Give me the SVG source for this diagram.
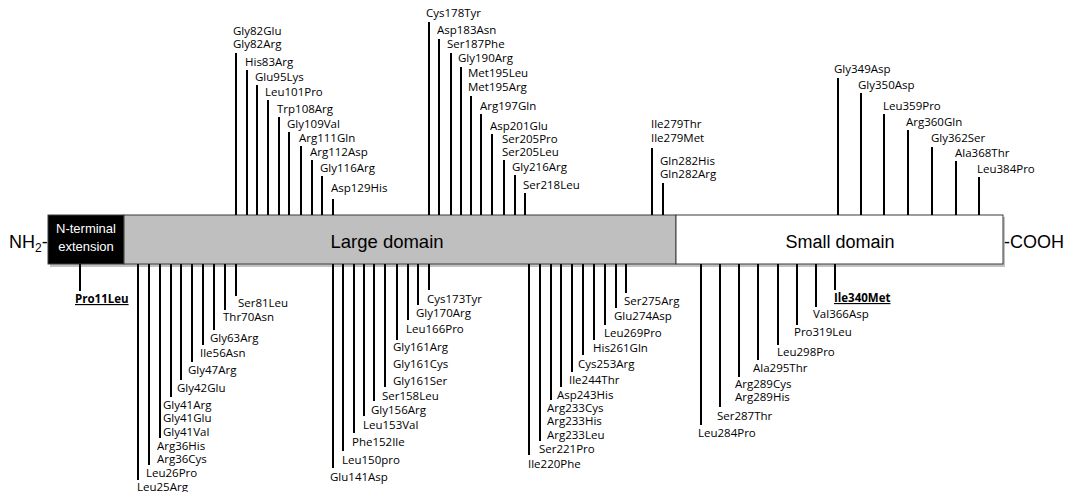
<svg xmlns="http://www.w3.org/2000/svg" width="1068" height="492" viewBox="0 0 1068 492">
<style>
.lb{font-family:"Open Sans","Noto Sans",sans-serif;font-size:11.5px;fill:#000}
.bd{font-weight:bold;text-decoration:underline}
.ar{font-family:"Liberation Sans",Arial,sans-serif;fill:#000}
.wt{fill:#fff}
.cn line{stroke:#000;stroke-width:2}
.dom{stroke:#3a3a3a;stroke-width:1}
.sh{fill:#9a9a9a;opacity:0.6}
</style>
<rect width="1068" height="492" fill="#fff"/>
<g id="shadows">
<rect class="sh" x="50" y="217" width="955" height="50"/>
</g>
<g id="nterm">
<rect class="dom" x="48" y="215" width="76" height="49" fill="#000"/>
<text class="ar wt" x="86" y="233" font-size="13" text-anchor="middle">N-terminal</text>
<text class="ar wt" x="86" y="251" font-size="13" text-anchor="middle">extension</text>
</g>
<g id="large">
<rect class="dom" x="124" y="215" width="552" height="49" fill="#bfbfbf"/>
<text class="ar" x="387" y="248" font-size="18.5" text-anchor="middle">Large domain</text>
</g>
<g id="small">
<rect class="dom" x="676" y="215" width="327" height="49" fill="#fff"/>
<text class="ar" x="840" y="248" font-size="18" text-anchor="middle">Small domain</text>
</g>
<g id="nh2"><text class="ar" x="9" y="248" font-size="18">NH<tspan font-size="12" dy="4">2</tspan><tspan dy="-4">-</tspan></text></g>
<g id="cooh"><text class="ar" x="1004" y="248" font-size="18">-COOH</text></g>

<g id="connectors" class="cn">
<line x1="80" y1="264" x2="80" y2="291"/>
<line x1="236" y1="53" x2="236" y2="215"/>
<line x1="247" y1="70" x2="247" y2="215"/>
<line x1="257" y1="85" x2="257" y2="215"/>
<line x1="268" y1="100" x2="268" y2="215"/>
<line x1="279" y1="117" x2="279" y2="215"/>
<line x1="289" y1="132" x2="289" y2="215"/>
<line x1="301" y1="146" x2="301" y2="215"/>
<line x1="312" y1="160" x2="312" y2="215"/>
<line x1="322" y1="176" x2="322" y2="215"/>
<line x1="333" y1="199" x2="333" y2="215"/>
<line x1="429" y1="22" x2="429" y2="215"/>
<line x1="439" y1="39" x2="439" y2="215"/>
<line x1="451" y1="53" x2="451" y2="215"/>
<line x1="461" y1="67" x2="461" y2="215"/>
<line x1="471" y1="96" x2="471" y2="215"/>
<line x1="481" y1="114" x2="481" y2="215"/>
<line x1="492" y1="134" x2="492" y2="215"/>
<line x1="504" y1="160" x2="504" y2="215"/>
<line x1="515" y1="175" x2="515" y2="215"/>
<line x1="525" y1="193" x2="525" y2="215"/>
<line x1="652" y1="148" x2="652" y2="215"/>
<line x1="663" y1="183" x2="663" y2="215"/>
<line x1="838" y1="78" x2="838" y2="215"/>
<line x1="861" y1="93" x2="861" y2="215"/>
<line x1="884" y1="114" x2="884" y2="215"/>
<line x1="908" y1="130" x2="908" y2="215"/>
<line x1="932" y1="147" x2="932" y2="215"/>
<line x1="956" y1="161" x2="956" y2="215"/>
<line x1="979" y1="177" x2="979" y2="215"/>
<line x1="138" y1="264" x2="138" y2="480"/>
<line x1="149" y1="264" x2="149" y2="465"/>
<line x1="160" y1="264" x2="160" y2="438"/>
<line x1="171" y1="264" x2="171" y2="397"/>
<line x1="181" y1="264" x2="181" y2="380"/>
<line x1="192" y1="264" x2="192" y2="362"/>
<line x1="203" y1="264" x2="203" y2="345"/>
<line x1="214" y1="264" x2="214" y2="330"/>
<line x1="225" y1="264" x2="225" y2="310"/>
<line x1="236" y1="264" x2="236" y2="296"/>
<line x1="333" y1="264" x2="333" y2="468"/>
<line x1="343" y1="264" x2="343" y2="451"/>
<line x1="354" y1="264" x2="354" y2="433"/>
<line x1="364" y1="264" x2="364" y2="416"/>
<line x1="374" y1="264" x2="374" y2="401"/>
<line x1="385" y1="264" x2="385" y2="387"/>
<line x1="397" y1="264" x2="397" y2="340"/>
<line x1="408" y1="264" x2="408" y2="320"/>
<line x1="418" y1="264" x2="418" y2="305"/>
<line x1="429" y1="264" x2="429" y2="290"/>
<line x1="529" y1="264" x2="529" y2="455"/>
<line x1="540" y1="264" x2="540" y2="441"/>
<line x1="551" y1="264" x2="551" y2="400"/>
<line x1="561" y1="264" x2="561" y2="387"/>
<line x1="572" y1="264" x2="572" y2="372"/>
<line x1="583" y1="264" x2="583" y2="355"/>
<line x1="594" y1="264" x2="594" y2="340"/>
<line x1="605" y1="264" x2="605" y2="325"/>
<line x1="616" y1="264" x2="616" y2="308"/>
<line x1="626" y1="264" x2="626" y2="293"/>
<line x1="701" y1="264" x2="701" y2="425"/>
<line x1="720" y1="264" x2="720" y2="407"/>
<line x1="739" y1="264" x2="739" y2="377"/>
<line x1="758" y1="264" x2="758" y2="360"/>
<line x1="778" y1="264" x2="778" y2="345"/>
<line x1="797" y1="264" x2="797" y2="325"/>
<line x1="816" y1="264" x2="816" y2="307"/>
<line x1="835" y1="264" x2="835" y2="290"/>
</g>

<g id="m-pro11"><text class="lb bd" x="75" y="303">Pro11Leu</text></g>
<g id="m-gly82"><text class="lb" x="233" y="35">Gly82Glu</text><text class="lb" x="233" y="48">Gly82Arg</text></g>
<g id="m-his83"><text class="lb" x="245" y="66">His83Arg</text></g>
<g id="m-glu95"><text class="lb" x="255" y="81">Glu95Lys</text></g>
<g id="m-leu101"><text class="lb" x="265" y="96">Leu101Pro</text></g>
<g id="m-trp108"><text class="lb" x="277" y="113">Trp108Arg</text></g>
<g id="m-gly109"><text class="lb" x="287" y="128">Gly109Val</text></g>
<g id="m-arg111"><text class="lb" x="299" y="142">Arg111Gln</text></g>
<g id="m-arg112"><text class="lb" x="310" y="156">Arg112Asp</text></g>
<g id="m-gly116"><text class="lb" x="320" y="172">Gly116Arg</text></g>
<g id="m-asp129"><text class="lb" x="331" y="192">Asp129His</text></g>
<g id="m-cys178"><text class="lb" x="426" y="17">Cys178Tyr</text></g>
<g id="m-asp183"><text class="lb" x="437" y="34">Asp183Asn</text></g>
<g id="m-ser187"><text class="lb" x="447" y="48">Ser187Phe</text></g>
<g id="m-gly190"><text class="lb" x="458" y="62">Gly190Arg</text></g>
<g id="m-met195"><text class="lb" x="468" y="77">Met195Leu</text><text class="lb" x="468" y="91">Met195Arg</text></g>
<g id="m-arg197"><text class="lb" x="480" y="110">Arg197Gln</text></g>
<g id="m-asp201"><text class="lb" x="490" y="130">Asp201Glu</text></g>
<g id="m-ser205"><text class="lb" x="502" y="143">Ser205Pro</text><text class="lb" x="502" y="156">Ser205Leu</text></g>
<g id="m-gly216"><text class="lb" x="512" y="171">Gly216Arg</text></g>
<g id="m-ser218"><text class="lb" x="523" y="189">Ser218Leu</text></g>
<g id="m-ile279"><text class="lb" x="651" y="128">Ile279Thr</text><text class="lb" x="651" y="142">Ile279Met</text></g>
<g id="m-gln282"><text class="lb" x="660" y="165">Gln282His</text><text class="lb" x="660" y="178">Gln282Arg</text></g>
<g id="m-gly349"><text class="lb" x="834" y="73">Gly349Asp</text></g>
<g id="m-gly350"><text class="lb" x="858" y="89">Gly350Asp</text></g>
<g id="m-leu359"><text class="lb" x="883" y="110">Leu359Pro</text></g>
<g id="m-arg360"><text class="lb" x="906" y="126">Arg360Gln</text></g>
<g id="m-gly362"><text class="lb" x="931" y="142">Gly362Ser</text></g>
<g id="m-ala368"><text class="lb" x="955" y="157">Ala368Thr</text></g>
<g id="m-leu384"><text class="lb" x="977" y="173">Leu384Pro</text></g>

<g id="m-leu25"><text class="lb" x="137" y="491">Leu25Arg</text></g>
<g id="m-leu26"><text class="lb" x="146" y="477">Leu26Pro</text></g>
<g id="m-arg36"><text class="lb" x="157" y="450">Arg36His</text><text class="lb" x="157" y="463">Arg36Cys</text></g>
<g id="m-gly41"><text class="lb" x="163" y="409">Gly41Arg</text><text class="lb" x="163" y="422">Gly41Glu</text><text class="lb" x="163" y="436">Gly41Val</text></g>
<g id="m-gly42"><text class="lb" x="177" y="392">Gly42Glu</text></g>
<g id="m-gly47"><text class="lb" x="188" y="374">Gly47Arg</text></g>
<g id="m-ile56"><text class="lb" x="200" y="357">Ile56Asn</text></g>
<g id="m-gly63"><text class="lb" x="210" y="342">Gly63Arg</text></g>
<g id="m-thr70"><text class="lb" x="223" y="321">Thr70Asn</text></g>
<g id="m-ser81"><text class="lb" x="238" y="307">Ser81Leu</text></g>
<g id="m-glu141"><text class="lb" x="330" y="481">Glu141Asp</text></g>
<g id="m-leu150"><text class="lb" x="342" y="464">Leu150pro</text></g>
<g id="m-phe152"><text class="lb" x="352" y="446">Phe152Ile</text></g>
<g id="m-leu153"><text class="lb" x="363" y="429">Leu153Val</text></g>
<g id="m-gly156"><text class="lb" x="371" y="414">Gly156Arg</text></g>
<g id="m-ser158"><text class="lb" x="382" y="400">Ser158Leu</text></g>
<g id="m-gly161"><text class="lb" x="393" y="351">Gly161Arg</text><text class="lb" x="393" y="368">Gly161Cys</text><text class="lb" x="393" y="385">Gly161Ser</text></g>
<g id="m-leu166"><text class="lb" x="406" y="333">Leu166Pro</text></g>
<g id="m-gly170"><text class="lb" x="416" y="317">Gly170Arg</text></g>
<g id="m-cys173"><text class="lb" x="427" y="303">Cys173Tyr</text></g>
<g id="m-ile220"><text class="lb" x="528" y="468">Ile220Phe</text></g>
<g id="m-ser221"><text class="lb" x="539" y="453">Ser221Pro</text></g>
<g id="m-arg233"><text class="lb" x="547" y="412">Arg233Cys</text><text class="lb" x="547" y="425">Arg233His</text><text class="lb" x="547" y="439">Arg233Leu</text></g>
<g id="m-asp243"><text class="lb" x="557" y="399">Asp243His</text></g>
<g id="m-ile244"><text class="lb" x="569" y="384">Ile244Thr</text></g>
<g id="m-cys253"><text class="lb" x="578" y="368">Cys253Arg</text></g>
<g id="m-his261"><text class="lb" x="593" y="352">His261Gln</text></g>
<g id="m-leu269"><text class="lb" x="604" y="337">Leu269Pro</text></g>
<g id="m-glu274"><text class="lb" x="614" y="320">Glu274Asp</text></g>
<g id="m-ser275"><text class="lb" x="624" y="305">Ser275Arg</text></g>
<g id="m-leu284"><text class="lb" x="698" y="437">Leu284Pro</text></g>
<g id="m-ser287"><text class="lb" x="717" y="420">Ser287Thr</text></g>
<g id="m-arg289"><text class="lb" x="735" y="388">Arg289Cys</text><text class="lb" x="735" y="401">Arg289His</text></g>
<g id="m-ala295"><text class="lb" x="753" y="372">Ala295Thr</text></g>
<g id="m-leu298"><text class="lb" x="777" y="356">Leu298Pro</text></g>
<g id="m-pro319"><text class="lb" x="794" y="336">Pro319Leu</text></g>
<g id="m-val366"><text class="lb" x="813" y="318">Val366Asp</text></g>
<g id="m-ile340"><text class="lb bd" x="834" y="302">Ile340Met</text></g>
</svg>
